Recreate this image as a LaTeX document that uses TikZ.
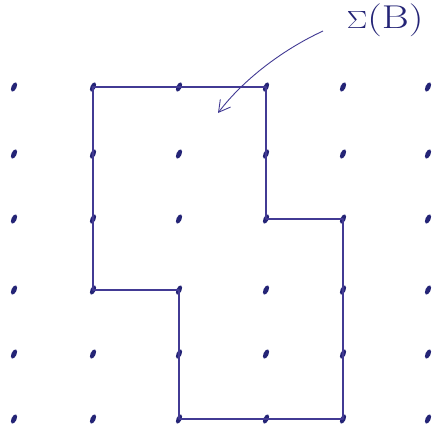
\documentclass[tikz,border=0pt]{standalone}
\usetikzlibrary{arrows.meta, positioning, shapes.geometric}
\definecolor{ink}{RGB}{36,36,118}
\definecolor{inkline}{RGB}{66,58,148}

\begin{document}
\begin{tikzpicture}[
        x=1pt, y=-1pt,
        dot/.style={ellipse, fill=ink, inner sep=0pt, minimum width=10pt,
                    minimum height=5pt, rotate=65},
        border/.style={draw=inkline, line width=1.1pt, line join=round},
        pointer/.style={-{Straight Barb[length=4mm, width=4.5mm]}, draw=inkline,
                        line width=0.9pt},
        label/.style={text=ink, font=\fontsize{33}{33}\selectfont, inner sep=0pt,
                      xscale=1.25},
    ]
        \useasboundingbox (0,0) rectangle (436,439);

        \foreach \y [count=\r] in {87,154,219,290,354,419}
            \foreach \x [count=\c] in {14,93,179,266,343,428}
                \node[dot] (d-\c-\r) at (\x,\y) {};

        \draw[border] (d-2-1.center) -- (d-4-1.center) -- (d-4-3.center)
            -- (d-5-3.center) -- (d-5-6.center) -- (d-3-6.center)
            -- (d-3-4.center) -- (d-2-4.center) -- (d-2-3.center)
            -- (d-2-2.center) -- cycle;

        \node[label] (sigma) at (385,20) {\(\Sigma\)(B)};
        \coordinate (tail) at (323,31);
        \coordinate (tip) at (218,113);
        \draw[pointer] (tail) .. controls (282,50) and (243,80) .. (tip);
    \end{tikzpicture}
\end{document}
